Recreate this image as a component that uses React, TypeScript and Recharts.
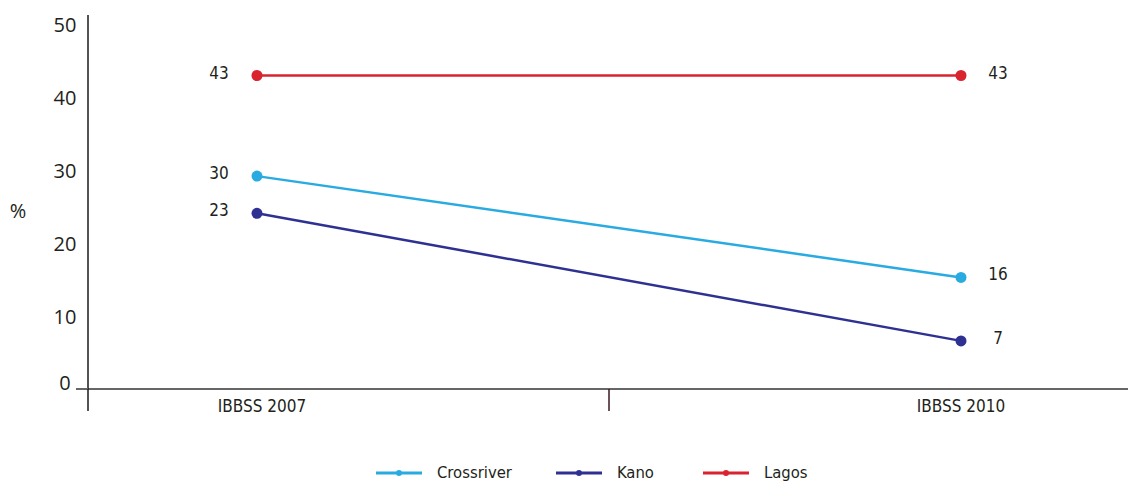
import React from "react";
import { LineChart, Line, XAxis, YAxis, Legend, LabelList } from "recharts";

const years = ["IBBSS 2007", "IBBSS 2010"];
// plotted positions; printed labels kept separately
const crossriver = [29.2, 15.3];
const kano = [24.1, 6.6];
const lagos = [43, 43];
const crossriverLabels = ["30", "16"];
const kanoLabels = ["23", "7"];
const lagosLabels = ["43", "43"];
const yTicks = [0, 10, 20, 30, 40, 50];

const NARROW = "'Liberation Sans Narrow', 'DejaVu Sans Condensed', sans-serif";
const WIDE = "'Open Sans', 'Noto Sans', sans-serif";
const TEXT = "#231f20";

const series = [
    { key: "crossriver", name: "Crossriver", color: "#29abe2", labels: crossriverLabels },
    { key: "kano", name: "Kano", color: "#2e3192", labels: kanoLabels },
    { key: "lagos", name: "Lagos", color: "#d9232e", labels: lagosLabels },
];

const data = years.map((year, i) => ({
    pos: i,
    year,
    crossriver: crossriver[i],
    kano: kano[i],
    lagos: lagos[i],
}));

const last = years.length - 1;
const xTicks = [0, last / 2, last];

const XTick = ({ x, y, payload }: any) => {
    const v = payload.value;
    if (!Number.isInteger(v)) {
        // small marker between the two surveys
        return <line x1={x} y1={y} x2={x} y2={y + 22} stroke="#3d1a1f" strokeWidth={1.5} />;
    }
    return (
        <text x={x + (v === 0 ? 5 : 0)} y={y + 23} textAnchor="middle" fontSize={17} fontFamily={NARROW} fill={TEXT}>
            {years[v]}
        </text>
    );
};

const YTick = ({ x, y, payload }: any) => {
    const zero = payload.value === 0;
    return (
        <g>
            {zero && (
                <>
                    <line x1={x - 12} y1={y} x2={x} y2={y} stroke="#666" strokeWidth={2} />
                    <line x1={x} y1={y} x2={x} y2={y + 22} stroke="#1a1a1a" strokeWidth={1.5} />
                </>
            )}
            <text
                x={x - 23}
                y={zero ? y + 1 : y + 8}
                textAnchor="middle"
                fontSize={20}
                fontFamily={WIDE}
                fill={TEXT}
            >
                {payload.value}
            </text>
        </g>
    );
};

const PercentLabel = ({ viewBox }: any) => {
    const { x, y, height } = viewBox;
    return (
        <text x={x + 18} y={y + height / 2 + 16} textAnchor="middle" fontSize={20} fontFamily={WIDE} fill={TEXT}>
            %
        </text>
    );
};

const makeLabel = (labels: string[]) => (props: any) => {
    const { x, y, index } = props;
    const first = index === 0;
    return (
        <text
            x={x + (first ? -38 : 37)}
            y={y + 3}
            textAnchor="middle"
            fontSize={17}
            fontFamily={NARROW}
            fill={TEXT}
        >
            {labels[index]}
        </text>
    );
};

const legendGaps = [44, 49, 0];

const renderLegend = () => (
    <div style={{ display: "flex", alignItems: "center", fontFamily: NARROW, fontSize: 16.5, color: TEXT, lineHeight: "18px" }}>
        {series.map((s, i) => (
            <div key={s.key} style={{ display: "flex", alignItems: "center", marginRight: legendGaps[i] }}>
                <svg width={46} height={10} style={{ marginRight: 15 }}>
                    <line x1={0} y1={5} x2={46} y2={5} stroke={s.color} strokeWidth={3} />
                    <circle cx={23} cy={5} r={3} fill={s.color} />
                </svg>
                <span>{s.name}</span>
            </div>
        ))}
    </div>
);

export default function App() {
    return (
        <div style={{ position: "absolute", left: 0, top: 0, width: 1128, height: 481, background: "#fff" }}>
            <LineChart width={1128} height={481} data={data} margin={{ top: 15, right: 0, bottom: 0, left: 0 }}>
                <XAxis
                    type="number"
                    dataKey="pos"
                    domain={[0, last]}
                    ticks={xTicks}
                    interval={0}
                    padding={{ left: 169, right: 167 }}
                    height={92}
                    tickSize={0}
                    tickMargin={0}
                    tickLine={false}
                    axisLine={{ stroke: "#666", strokeWidth: 2 }}
                    tick={<XTick />}
                />
                <YAxis
                    type="number"
                    domain={[0, 51.3]}
                    ticks={yTicks}
                    interval={0}
                    width={88}
                    tickSize={0}
                    tickMargin={0}
                    tickLine={false}
                    axisLine={{ stroke: "#1a1a1a", strokeWidth: 1.5 }}
                    tick={<YTick />}
                    label={<PercentLabel />}
                />
                <Legend
                    layout="horizontal"
                    verticalAlign="middle"
                    align="center"
                    wrapperStyle={{ top: 464, left: 376, width: "auto" }}
                    content={renderLegend}
                />
                {series.map((s) => (
                    <Line
                        key={s.key}
                        dataKey={s.key}
                        name={s.name}
                        stroke={s.color}
                        strokeWidth={2.5}
                        dot={{ r: 5.5, fill: s.color, stroke: s.color, strokeWidth: 0 }}
                        isAnimationActive={false}
                    >
                        <LabelList dataKey={s.key} content={makeLabel(s.labels)} />
                    </Line>
                ))}
            </LineChart>
        </div>
    );
}
